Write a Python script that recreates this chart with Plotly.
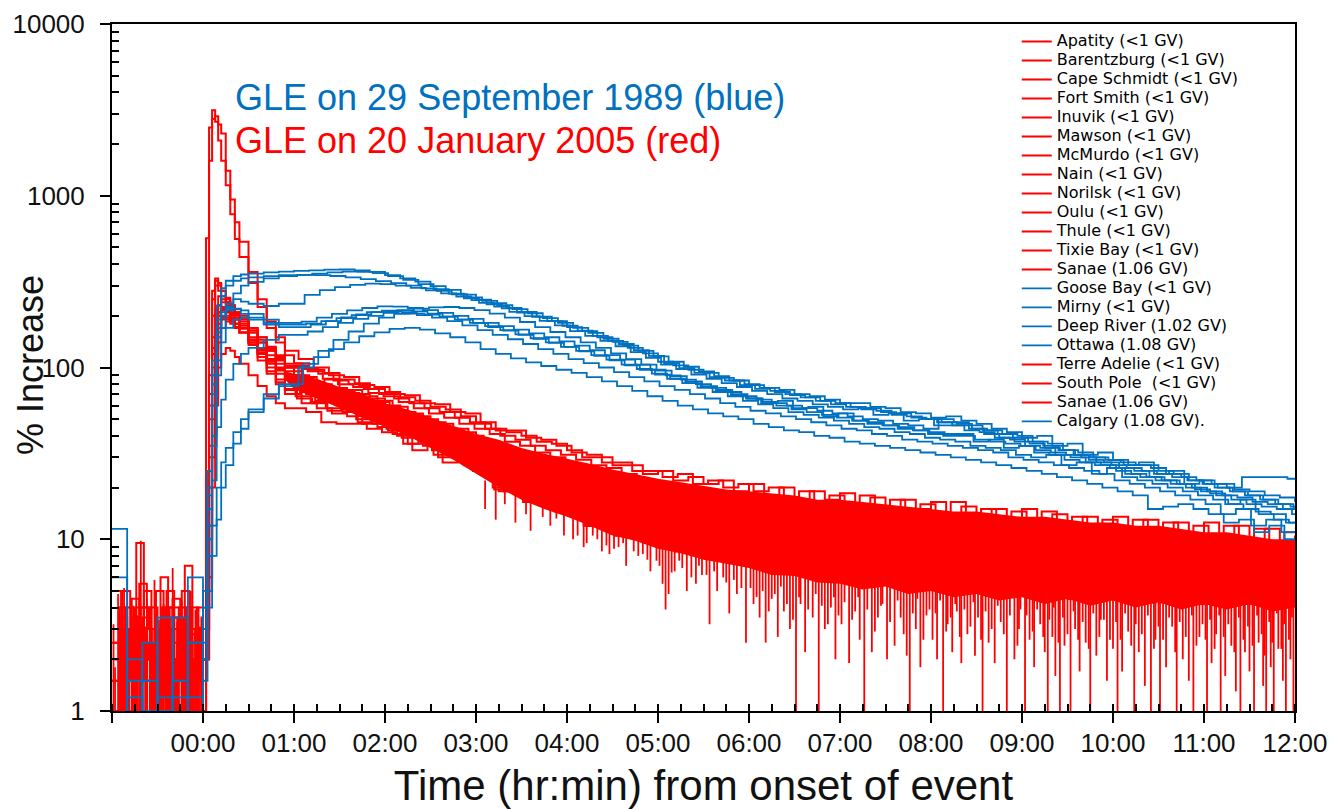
import plotly.graph_objects as go

# ---------------- sampling grids (minutes from onset of event) ----------------
RED_T_PRE = list(range(-60, 0, 5))
RED_T_EARLY = [0, 2, 4, 6, 8, 10, 12, 15, 18, 21, 24, 30, 36, 42, 48, 54]
BLUE_T_PRE = [-60, -50, -40, -30, -20, -10]
BLUE_T_EARLY = [0, 3, 6, 9, 12, 15, 20, 25, 30, 40, 50]
T_LATE = list(range(60, 721, 10))

# per-station record offsets (minutes)
RED_OFFSET_MIN = [0, 6, 3, 8, 1, 5, 9, 2, 7, 4, 6, 1, 8, 3, 0, 5]
BLUE_OFFSET_MIN = [0, 4, 7, 2, 5, 8, 1, 6, 3, 9]

# ---------------- GLE 20 January 2005 (red), % increase ----------------
APATITY = ([2, 1.5, 3, 0.8, 2.5, 4, 1.2, 2, 3.5, 1.5, 2.8, 2] +
           [2, 4, 30, 120, 190, 230, 250, 240, 230, 210, 200, 170, 150, 130, 115, 100] +
           [90, 82, 85, 72, 70, 66,
            60, 55, 52, 48, 44, 42,
            38, 34, 33, 29, 28, 25,
            24, 22, 20, 18, 18, 15,
            16, 14, 13, 14, 11, 12,
            11, 12, 9, 11, 8, 10,
            10, 7, 11, 6, 10, 8,
            9, 6, 10, 7, 8, 5,
            9, 6, 8, 4.5, 9, 6,
            8, 4.5, 8.5, 5.5, 7, 4.2,
            8, 5, 6.5, 4.2, 7.5, 4.5,
            6])
BARENTZBURG = ([1, 3, 0.8, 2, 5, 1.5, 2.5, 0.8, 3, 2, 1, 4] +
               [1, 3, 15, 80, 160, 210, 220, 215, 200, 190, 175, 150, 130, 118, 105, 95] +
               [78, 65, 72, 58, 62, 50,
                52, 42, 46, 36, 40, 33,
                34, 24, 31, 20, 27, 17,
                24, 13, 21, 11.5, 18, 10,
                16, 9, 14, 8, 13, 7.5,
                12, 7, 11, 6.5, 12, 6.5,
                10, 6, 11, 5.5, 9, 5.5,
                10, 5.5, 8, 5, 9, 5,
                8, 5, 9, 4.8, 7, 4.6,
                8, 4.5, 7, 4.4, 8, 4.5,
                7, 4.3, 6, 4.2, 7, 4.4,
                5])
CAPE_SCHMIDT = ([3, 2, 4.5, 1, 2, 3, 0.8, 3.5, 1.5, 4, 2, 3] +
                [3, 6, 50, 150, 220, 260, 240, 230, 210, 195, 180, 160, 140, 125, 110, 100] +
                [85, 78, 74, 71, 64, 63,
                 56, 52, 48, 45, 41, 38,
                 35, 31, 30, 26, 25, 22,
                 21, 19, 18, 15, 16, 13,
                 14, 11, 13, 10, 12, 9,
                 11, 8, 12, 7, 10, 6.5,
                 10, 5.5, 9, 7, 8.5, 5.2,
                 9.5, 6, 8, 5, 9, 5,
                 8, 4.6, 7.5, 5.5, 8, 4.5,
                 7.5, 4.5, 6.5, 4.4, 7.5, 4.2,
                 6.5, 4.3, 7, 4.2, 6, 4.5,
                 5])
FORT_SMITH = ([0.8, 2.5, 1.5, 3, 1, 2, 4, 1.5, 2.5, 0.8, 3, 1.5] +
              [1, 2, 8, 40, 110, 170, 200, 210, 205, 190, 170, 145, 125, 110, 98, 88] +
              [70, 66, 60, 58, 52, 50,
               46, 40, 38, 34, 33, 29,
               30, 21, 26, 17, 23, 15,
               20, 12.5, 18, 11, 16, 9.5,
               14, 8.5, 12, 8, 11, 7.5,
               10, 6.5, 9.5, 6.5, 9, 6,
               9, 5.5, 7.5, 5.5, 8, 5.2,
               7, 5.2, 8, 5, 6.5, 4.8,
               7, 4.6, 6, 4.5, 7, 4.5,
               6, 4.3, 5, 4.2, 6, 4.2,
               5, 4.2, 6, 4.3, 5, 4.2,
               4.5])
INUVIK = ([2.5, 0.8, 2, 4, 1.5, 3, 2, 5, 1, 2.5, 1.5, 2] +
          [2, 5, 25, 100, 180, 200, 215, 200, 185, 170, 160, 140, 120, 105, 92, 85] +
          [75, 68, 64, 62, 56, 54,
           49, 44, 42, 37, 36, 31,
           32, 23, 28, 19, 25, 16,
           22, 14, 19, 11.5, 17, 10,
           15, 9.5, 13, 8, 11, 7.5,
           11, 7, 9, 6.5, 10, 6.2,
           9, 6.5, 8.5, 5.6, 8, 5.3,
           8.5, 5.2, 7, 5, 8, 4.8,
           7, 4.7, 8, 4.6, 6, 4.6,
           7, 4.4, 6, 4.4, 7, 4.2,
           6, 4.2, 5, 4.3, 6, 4.2,
           4.5])
MAWSON = ([1.5, 4, 2, 1, 3.5, 0.8, 2.5, 1.5, 4.5, 2, 3, 1] +
          [1, 4, 60, 200, 300, 280, 260, 240, 215, 200, 185, 160, 140, 125, 112, 100] +
          [88, 80, 76, 74, 68, 64,
           59, 54, 50, 47, 44, 40,
           37, 33, 31, 28, 26, 23,
           22, 20, 19, 16, 17, 14,
           15, 12, 14, 11, 13, 10,
           12, 9, 11, 7.5, 11, 8,
           11, 6, 10, 8, 9.5, 5.2,
           10, 7, 8.5, 5, 9.5, 6,
           9, 4.6, 8, 6, 8.5, 4.5,
           8, 5, 7, 4.4, 8, 4.2,
           7, 4.3, 7.5, 4.2, 6.5, 4.3,
           6])
MCMURDO = ([4, 1.5, 0.8, 2.5, 2, 5, 1.5, 3, 2, 0.8, 2, 3] +
           [2, 8, 70, 250, 320, 300, 280, 250, 225, 205, 190, 165, 145, 128, 115, 102] +
           [95, 86, 80, 77, 71, 68,
            63, 58, 54, 51, 47, 44,
            41, 37, 35, 32, 30, 27,
            26, 24, 22, 20, 19, 18,
            17, 15, 16, 13, 15, 12,
            14, 11, 13, 9.5, 12, 10,
            13, 8.5, 12, 10, 11, 7.5,
            12, 8, 11, 7, 11, 8.5,
            10.5, 6.5, 10, 7.5, 9.5, 6,
            10, 6, 9.5, 7, 9, 5,
            9, 6, 8.5, 4.5, 9, 5.5,
            7])
NAIN = ([1, 2, 3, 1.5, 0.8, 2.5, 3, 1, 2, 3.5, 1, 2.5] +
        [1, 2, 6, 30, 90, 140, 170, 185, 190, 180, 170, 145, 120, 100, 85, 75] +
        [66, 62, 56, 55, 48, 47,
         43, 36, 37, 31, 32, 27,
         28, 19.5, 24, 16.5, 20, 14.5,
         18, 12, 16, 10.5, 14, 9.5,
         12, 8.5, 11, 8, 10, 7.5,
         9, 6.5, 8.5, 6.2, 7, 6,
         8, 5.5, 6, 5.4, 7, 5.2,
         7, 5, 6, 4.9, 7, 4.8,
         6, 4.6, 6.5, 4.5, 5, 4.5,
         6, 4.3, 5, 4.3, 6, 4.2,
         5, 4.2, 4.5, 4.2, 5, 4.2,
         4.2])
NORILSK = ([2, 5, 1.5, 3, 2, 1, 6, 2, 1.5, 3, 4, 2] +
           [2, 5, 35, 130, 200, 230, 225, 210, 195, 180, 168, 145, 128, 112, 100, 90] +
           [80, 75, 70, 66, 62, 58,
            53, 50, 45, 43, 39, 37,
            33, 31, 27, 26, 23, 21,
            20, 17, 17, 14, 15, 12,
            13, 10, 12, 8.5, 11, 8,
            10, 7, 9.5, 6.3, 9, 6,
            9, 5.5, 8.5, 6, 8, 5.2,
            8.5, 5, 7.5, 5, 8, 4.8,
            7.5, 4.6, 7, 5, 7.5, 4.5,
            7, 4.4, 6, 4.3, 7, 4.2,
            6, 4.3, 5.5, 4.2, 6, 4.2,
            5])
OULU = ([1.5, 1, 2.5, 4, 3, 1.5, 2, 0.8, 4, 1.5, 2, 3.5] +
        [1, 3, 12, 60, 130, 180, 195, 190, 180, 170, 160, 140, 122, 108, 96, 86] +
        [72, 64, 66, 57, 58, 50,
         48, 41, 42, 35, 36, 30,
         31, 22, 27, 18, 23, 16,
         21, 12, 19, 11.5, 16, 9.5,
         13, 9, 12, 8, 11, 7.5,
         10, 6.5, 8.5, 6.3, 9, 6,
         8.5, 5.5, 7, 5.4, 8, 5.2,
         7.5, 5, 6, 4.9, 8, 4.8,
         7, 4.6, 6, 4.5, 7, 4.5,
         6, 4.3, 5.5, 4.3, 6, 4.2,
         6, 4.2, 5, 4.2, 6, 4.2,
         5])
THULE = ([5, 2, 1, 9.5, 2, 3, 1.5, 4, 2.5, 1, 3, 2] +
         [3, 10, 90, 280, 330, 310, 280, 255, 230, 210, 195, 170, 150, 132, 118, 105] +
         [98, 92, 84, 80, 75, 70,
          66, 62, 58, 55, 51, 48,
          44, 40, 38, 35, 33, 31,
          29, 27, 26, 24, 22, 21,
          20, 19, 18, 17, 16, 17,
          15, 16, 14, 15, 13, 14,
          13, 12, 14, 11, 13, 11,
          12, 10, 12, 10, 11.5, 9,
          11, 9, 10.5, 8.5, 10.5, 8,
          10, 8, 9.5, 7.5, 9.5, 7,
          9, 7, 9, 7, 8.5, 6.5,
          8])
TIXIE_BAY = ([0.8, 3, 2, 1.5, 4, 2, 1, 3, 2, 5, 1.5, 0.8] +
             [2, 4, 20, 90, 170, 210, 220, 210, 195, 180, 170, 140, 115, 95, 82, 74] +
             [68, 63, 58, 57, 50, 49,
              44, 39, 39, 33, 34, 29,
              29, 20, 25, 16.5, 21, 15,
              19, 12, 17, 10.5, 14, 9.5,
              12, 8.5, 11, 8, 10, 7.5,
              9, 6.5, 8, 6.2, 7, 6,
              8, 5.5, 7, 5.4, 6, 5.2,
              7, 5, 6, 4.9, 7, 4.8,
              6, 4.6, 5, 4.5, 6, 4.5,
              5, 4.3, 6, 4.3, 5, 4.2,
              5, 4.2, 4.5, 4.2, 5, 4.2,
              4.2])
SANAE_A = ([2, 1, 3.5, 2, 1, 2.5, 3, 1.5, 0.8, 2, 2.5, 1.5] +
           [1, 2, 5, 20, 60, 100, 120, 130, 125, 115, 105, 90, 78, 68, 62, 58] +
           [55, 48, 47, 47, 44, 42,
            40, 33, 35, 28, 30, 25,
            24, 19, 21, 16.5, 18, 14.5,
            16, 12, 14, 10.5, 12, 9.5,
            10, 8.5, 9, 8, 8.5, 7.5,
            7, 6.5, 6.5, 6.2, 7, 6,
            6, 5.5, 5.8, 5.4, 6, 5.2,
            5.5, 5, 6, 4.9, 5.5, 4.8,
            5, 4.6, 4.8, 4.5, 5, 4.5,
            4.5, 4.3, 5, 4.3, 4.6, 4.2,
            4.5, 4.2, 4.4, 4.2, 4.5, 4.2,
            4.2])
TERRE_ADELIE = ([3, 1.5, 2, 5.5, 1.5, 2, 3.5, 1, 2, 7, 3, 2] +
                [2, 20, 1600, 2800, 2900, 2600, 2300, 1400, 950, 700, 540, 360, 250, 185, 150, 125] +
                [112, 100, 90, 88, 79, 77,
                 70, 69, 62, 61, 55, 54,
                 48, 43, 43, 39, 38, 35,
                 32, 31, 28, 28, 25, 25,
                 23, 24, 21, 22, 20, 21,
                 19, 20, 17, 19, 16, 18,
                 16, 18, 15, 17, 14, 16,
                 14, 16.5, 13, 15, 12.5, 14.5,
                 12, 14.5, 11.5, 13.5, 11, 13,
                 10.5, 13, 10, 12.5, 10, 12,
                 9.5, 12, 9, 11.5, 9, 11,
                 9])
SOUTH_POLE = ([1.5, 3.5, 1, 2, 3, 1.5, 2, 4, 3, 1.5, 2.5, 3] +
              [3, 565, 2500, 3150, 2700, 2100, 1600, 1150, 780, 560, 440, 310, 225, 170, 140, 118] +
              [106, 97, 93, 85, 81, 75,
               72, 67, 64, 59, 57, 52,
               47, 44, 42, 40, 37, 36,
               33, 30, 30, 27, 27, 24,
               25, 22, 23, 21, 22, 19,
               21, 18, 20, 17, 19, 17,
               18.5, 16, 17.5, 15, 17, 15,
               16.5, 14, 15.5, 13.5, 15, 13,
               15, 12.5, 14, 12, 13.5, 11.5,
               13.5, 11, 13, 11, 12.5, 10.5,
               12.5, 10, 12, 10, 11.5, 9.5,
               10.5])
SANAE_B = ([2.5, 1, 4, 2, 3, 1, 1.5, 2.5, 4, 2, 1, 3] +
           [1, 3, 10, 50, 120, 170, 190, 195, 185, 172, 160, 135, 110, 92, 80, 70] +
           [62, 58, 54, 52, 47, 45,
            41, 36, 35, 30, 31, 27,
            26, 19, 23, 17, 20, 14.5,
            17, 12, 15, 10.5, 13, 9.5,
            11, 8.5, 10, 8, 9, 7.5,
            8, 6.5, 7, 6.2, 8, 6,
            7, 5.5, 6, 5.4, 7, 5.2,
            6, 5, 7, 4.9, 5.5, 4.8,
            6, 4.6, 5, 4.5, 6, 4.5,
            5, 4.3, 4.5, 4.3, 5, 4.2,
            5, 4.2, 4.4, 4.2, 4.5, 4.2,
            4.2])

# dense part of the 2005 noise band (upper / lower edge of the solid red body), hours
RED_BODY_T = [0.9, 1.0, 1.25, 1.5, 1.75, 2.0, 2.25, 2.5, 2.75, 3.0, 3.25, 3.5, 3.75,
              4.0, 4.25, 4.5, 4.75, 5.0, 5.25, 5.5, 5.75, 6.0, 6.25, 6.5, 6.75, 7.0, 7.25,
              7.5, 7.75, 8.0, 8.25, 8.5, 8.75, 9.0, 9.25, 9.5, 9.75, 10.0, 10.25, 10.5,
              10.75, 11.0, 11.25, 11.5, 11.75, 12.0]
RED_BODY_HI = [95, 92, 86, 77, 70, 62, 57, 51, 46, 41, 38, 34, 31.5,
               29.5, 27.5, 25.5, 24, 22.5, 21.5, 20.5, 19.5, 19, 18.5, 18, 17, 17, 16.5,
               16, 15.5, 15, 14.5, 14.5, 14, 13.5, 13.5, 13, 12.5, 12.5, 12, 12,
               11.5, 11, 11, 10.5, 10, 10]
RED_BODY_LO = [85, 75, 66, 58, 51, 45, 40, 34, 29, 24, 20, 17, 15,
               13.5, 12, 10.5, 9.8, 8.8, 8.3, 7.6, 7.2, 6.8, 6.2, 6.1, 5.6, 5.5, 5.1,
               5.3, 4.8, 5.0, 4.6, 4.8, 4.4, 4.6, 4.2, 4.5, 4.1, 4.4, 4.0, 4.3,
               3.9, 4.2, 3.9, 4.2, 3.8, 4.0]

# short downward excursions of the 2005 stations (minute, from, to)
DIP_T_MIN = ([186, 193, 199, 206, 213, 216, 224, 229, 233, 238,
              244, 251, 257, 263, 268, 274, 279, 284, 290, 295, 299,
              303, 305, 307, 311, 314, 319, 325, 329, 334, 339, 343, 347, 352, 358,
              363, 367, 371, 375, 379, 383, 387, 391, 394, 397, 402, 406, 410, 414, 417,
              421, 426, 430, 433, 436, 441, 445, 448, 451, 456, 460, 464, 466, 470, 473, 477,
              481, 484, 488, 491, 494, 497, 500, 504, 509, 511, 514, 518, 522, 526, 530, 535, 538,
              542, 545, 548, 552, 555, 557, 560, 562, 565, 568, 572, 575, 578, 582, 585, 589, 592, 596,
              600, 603, 606, 610, 614, 617, 621, 625, 628, 631, 635, 639, 642, 646, 650, 653, 657,
              662, 665, 668, 671, 674, 678, 681, 684, 687, 690, 693, 696, 699, 701, 704, 706, 709,
              712, 714, 717, 719] +
             [247, 253, 260, 266, 271, 277, 287, 293,
              301, 309, 316, 322, 327, 332, 337, 345, 350, 355,
              361, 365, 369, 373, 377, 381, 385, 389, 393, 399, 404, 408, 412, 416, 419,
              423, 428, 432, 438, 443, 447, 453, 458, 462, 468, 471, 475, 479,
              483, 486, 490, 493, 496, 499, 502, 506, 508, 513, 516, 520, 524, 528, 532, 537, 539,
              543, 547, 550, 554, 558, 561, 564, 567, 570, 574, 577, 580, 584, 587, 591, 594, 598,
              602, 605, 608, 612, 615, 619, 623, 627, 630, 633, 637, 641, 644, 648, 652, 655, 659,
              661, 664, 667, 670, 673, 676, 680, 683, 686, 689, 692, 695, 698, 700, 703, 705, 708,
              711, 713, 716, 718])
DIP_FROM = ([22, 21, 20, 19, 18, 18, 17, 16, 16, 15,
             14, 13, 13, 12, 12, 11.5, 11, 11, 10.5, 10, 10,
             10, 10, 9.5, 9.5, 9, 9, 8.5, 8.5, 8, 8, 8, 7.5, 7.5, 7,
             7.5, 7.5, 7.5, 7, 7, 7, 7, 7, 7, 7, 7, 6.5, 6.5, 6.5, 6.5,
             6.5, 6.5, 6.5, 6.5, 6.5, 6.5, 6.5, 6.5, 6.5, 6, 6, 6, 6, 6, 6, 6,
             6, 6, 6, 6, 6, 6, 6, 6, 6, 6, 6, 6, 6, 6, 6, 6, 6,
             5.5, 5.5, 5.5, 5.5, 5.5, 5.5, 5.5, 5.5, 5.5, 5.5, 5.5, 5.5, 5.5, 5.5, 5.5, 5.5, 5.5, 5.5,
             5.5, 5.5, 5.5, 5.5, 5.5, 5.5, 5.5, 5.5, 5.5, 5.5, 5.5, 5.5, 5.5, 5.5, 5.5, 5.5, 5.5,
             5.5, 5.5, 5.5, 5.5, 5.5, 5.5, 5.5, 5.5, 5.5, 5.5, 5.5, 5.5, 5.5, 5.5, 5.5, 5.5, 5.5,
             5.5, 5.5, 5.5, 5.5] +
            [13, 12.5, 12, 11.5, 11, 11, 10.5, 10,
             9.5, 9, 9, 8.5, 8.5, 8.5, 8, 8, 7.5, 7.5,
             7, 7, 7, 7, 7, 7, 7, 7, 7, 7, 7, 6.5, 6.5, 6.5, 6.5,
             6.5, 6.5, 6.5, 6.5, 6.5, 6.5, 6.5, 6, 6, 6, 6, 6, 6,
             6, 6, 6, 6, 6, 6, 6, 6, 6, 6, 6, 6, 6, 6, 6, 6, 6,
             5.5, 5.5, 5.5, 5.5, 5.5, 5.5, 5.5, 5.5, 5.5, 5.5, 5.5, 5.5, 5.5, 5.5, 5.5, 5.5, 5.5,
             5.5, 5.5, 5.5, 5.5, 5.5, 5.5, 5.5, 5.5, 5.5, 5.5, 5.5, 5.5, 5.5, 5.5, 5.5, 5.5, 5.5,
             5.5, 5.5, 5.5, 5.5, 5.5, 5.5, 5.5, 5.5, 5.5, 5.5, 5.5, 5.5, 5.5, 5.5, 5.5, 5.5, 5.5,
             5.5, 5.5, 5.5, 5.5])
DIP_TO = ([15, 13, 16, 12.5, 14, 11.2, 13.5, 12, 13.2, 10.5,
           10, 9, 10.5, 8.5, 8.2, 9, 7, 8.5, 8.2, 6.5, 7.5,
           5.5, 3.9, 4.8, 6.5, 7.5, 5, 5.5, 6.2, 3.2, 5, 6, 3.7, 4.8, 2.5,
           4.2, 3.5, 2.5, 4.5, 2.7, 3.8, 3, 0.8, 4.2, 2.2, 3.5, 0.8, 3, 4, 2,
           3.2, 1.9, 3.8, 2.6, 0.8, 2.2, 3.5, 4.2, 2, 2.4, 3.5, 2.1, 0.8, 3, 1.8, 3.6,
           2.6, 2, 0.8, 3.2, 2.2, 3.8, 1.9, 2.8, 2.1, 3.5, 0.8, 2.5, 1.9, 3.3, 0.8, 2, 3,
           0.8, 2.6, 1.8, 3.2, 2.2, 0.8, 2.7, 1.6, 0.8, 2.4, 0.8, 3, 1.7, 2.5, 0.8, 2.1, 3.4, 1.5,
           2.3, 0.8, 1.7, 2.9, 0.8, 2.2, 1.4, 0.8, 2.6, 0.8, 1.8, 3.1, 0.8, 2, 1.5, 0.8, 2.7,
           0.8, 1.9, 2.8, 0.8, 1.6, 2.4, 1.3, 0.8, 2.2, 1.7, 0.8, 2.5, 1.4, 0.8, 1.8, 0.8, 2.3,
           1.5, 0.8, 2, 0.8] +
          [10.5, 9.5, 10, 9.2, 8.8, 9.5, 8, 7.6,
           7, 6.4, 6.8, 6, 7, 6.2, 6.5, 5.6, 5.8, 5.2,
           5.2, 4.6, 5, 3.8, 4.8, 5.3, 4.2, 3.4, 4.6, 3.9, 4.8, 4.1, 3.2, 4.6, 3.6,
           4.3, 3.4, 4.6, 3.9, 2.9, 4.1, 3.3, 4.4, 2.8, 3.7, 4.5, 2.6, 3.9,
           3.7, 4.4, 2.9, 3.5, 4.2, 2.7, 3.9, 3.1, 4.3, 2.6, 3.8, 3, 4.1, 2.8, 3.6, 2.4, 3.9,
           3.6, 2.9, 3.9, 2.7, 3.4, 4, 2.5, 3.5, 2.8, 3.8, 2.6, 3.3, 2.3, 3.7, 2.7, 3.4, 2.6,
           3.3, 2.6, 3.7, 2.4, 3.2, 2.8, 3.6, 2.3, 3.1, 2.6, 3.5, 2.2, 3.3, 2.7, 3.6, 2.4, 3.2,
           2.6, 3.4, 2.3, 3.6, 2.7, 3.2, 2.2, 3.5, 2.6, 3.1, 2.4, 3.6, 2.8, 2.1, 3.3, 2.5, 3.7,
           2.3, 3.2, 2.6, 3.5])

# pre-event background fluctuations of the 2005 records (minute, peak value)
PRE_SPIKE_T_MIN = [-59, -58, -56, -55, -53, -52, -50, -49, -47, -46, -44, -43, -41, -40,
                   -38, -37, -35, -34, -32, -31, -29, -28, -26, -25, -23, -22, -20, -19,
                   -17, -16, -14, -13, -11, -10, -8, -7, -5, -4, -2, -1]
PRE_SPIKE_TOP = [3.2, 1.8, 4.8, 2.5, 2.1, 5.2, 3, 1.6, 2.7, 4.1, 2.2, 3.6, 9.8, 2,
                 3.1, 4.5, 1.7, 2.9, 5.8, 2.3, 3.4, 1.9, 4.2, 2.6, 3.8, 2.1, 6.8, 2.4,
                 3.3, 1.8, 4.4, 2.8, 3.5, 2.2, 5, 2.6, 3.9, 1.9, 3.1, 2.5]

# ---------------- GLE 29 September 1989 (blue), % increase ----------------
GOOSE_BAY = ([0.5, 1.2, 0.5, 3.5, 0.5, 2.5] +
             [5, 25, 110, 230, 290, 320, 340, 348, 352, 358, 362] +
             [365, 368, 371, 372, 368, 360,
              345, 330, 316, 298, 283, 266,
              248, 237, 222, 211, 198, 186,
              172, 163, 150, 141, 130, 121,
              108, 103, 97, 93, 87, 84,
              79, 76, 74, 70, 68, 65,
              62, 62, 59, 58, 55, 54,
              51, 52, 49, 47, 44, 42,
              39, 40, 35, 36, 31, 32,
              29, 27, 27, 25, 24, 22,
              21, 21, 19.5, 19, 18, 17.5,
              16.5])
MIRNY = ([11.5, 0.5, 1, 0.5, 1.5, 0.5] +
         [4, 18, 80, 190, 260, 300, 320, 330, 335, 340, 345] +
         [346, 345, 341, 335, 327, 318,
          310, 300, 289, 279, 267, 256,
          244, 231, 219, 207, 194, 182,
          170, 159, 147, 137, 126, 117,
          106, 99, 93, 88, 84, 79,
          75, 73, 70, 67, 64, 61,
          59, 57, 56, 53, 52, 50,
          48, 46, 46, 43, 41, 39,
          37, 35, 33, 31, 29, 28,
          26, 25, 23, 22, 21, 19.5,
          18.5, 16, 17, 14.5, 14, 12.5,
          12])
DEEP_RIVER = ([0.5, 2, 0.5, 0.8, 0.5, 6] +
              [3, 12, 60, 150, 200, 235, 250, 242, 235, 228, 235] +
              [265, 282, 294, 303, 308, 306,
               300, 291, 281, 270, 259, 247,
               233, 221, 209, 197, 186, 175,
               164, 153, 143, 134, 125, 116,
               108, 101, 95, 89, 84, 80,
               76, 72, 69, 67, 64, 62,
               59, 58, 55, 54, 51, 50,
               48, 47, 44, 43, 41, 40,
               37, 36, 33, 32, 30, 29,
               27, 28, 24, 25, 21, 22,
               20, 19, 18, 17, 16, 15.5,
               14.5])
OTTAWA = ([0.5, 0.5, 1.5, 0.5, 3.5, 1.2] +
          [3, 10, 40, 110, 170, 220, 270, 300, 315, 330, 340] +
          [346, 352, 358, 362, 360, 354,
           340, 324, 306, 286, 269, 253,
           238, 226, 211, 199, 187, 176,
           163, 153, 143, 133, 123, 114,
           104, 98, 91, 86, 81, 77,
           73, 70, 66, 64, 61, 59,
           57, 58, 53, 54, 49, 50,
           46, 46, 43, 42, 39, 38,
           35, 34, 31, 30, 28, 27,
           25, 24, 23, 22, 21, 20,
           19, 18, 17.5, 16.5, 16, 15,
           14])
CALGARY = ([6, 0.5, 0.5, 1, 0.5, 0.5] +
           [4, 15, 70, 160, 200, 215, 220, 215, 205, 190, 182] +
           [185, 195, 205, 215, 222, 227,
            226, 222, 216, 208, 200, 192,
            182, 174, 166, 158, 150, 142,
            134, 126, 118, 111, 104, 97,
            90, 85, 80, 76, 72, 68,
            65, 62, 60, 58, 56, 54,
            52, 50, 49, 47, 46, 44,
            50, 48, 44, 41, 39, 37,
            36, 34, 33, 31, 30, 29,
            28, 27, 26, 24, 23, 22,
            21, 20, 23, 23, 23, 22.5,
            22])
BLUE_STATION_6 = ([0.5, 0.5, 2.5, 0.5, 0.5, 0.5] +
                  [3, 20, 90, 170, 210, 225, 218, 205, 195, 182, 178] +
                  [180, 186, 194, 202, 210, 214,
                   216, 212, 206, 198, 190, 182,
                   172, 164, 155, 147, 139, 132,
                   124, 117, 110, 103, 97, 91,
                   86, 81, 77, 73, 69, 66,
                   62, 60, 57, 55, 53, 51,
                   49, 47, 46, 44, 43, 41,
                   40, 41, 37, 38, 34, 35,
                   32, 31, 29, 28, 27, 26,
                   24, 23, 22, 21, 20, 19,
                   18, 17, 16, 15.5, 15, 14,
                   13])
BLUE_STATION_7 = ([0.5, 0.5, 0.5, 1.2, 0.5, 0.5] +
                  [2, 8, 35, 90, 140, 170, 190, 195, 190, 178, 172] +
                  [172, 178, 186, 196, 204, 210,
                   212, 208, 202, 195, 186, 176,
                   165, 155, 146, 137, 128, 120,
                   112, 106, 100, 94, 88, 83,
                   78, 74, 70, 66, 62, 59,
                   56, 54, 52, 50, 48, 46,
                   44, 43, 41, 40, 38, 37,
                   36, 35, 34, 33, 32, 30,
                   29, 28, 27, 26, 25, 24,
                   22, 21, 20, 19, 18, 17,
                   16, 14, 15, 12, 13, 11,
                   9])
BLUE_STATION_8 = ([0.5, 1.5, 0.5, 0.5, 0.5, 2.5] +
                  [2, 5, 12, 20, 28, 34, 42, 50, 57, 70, 80] +
                  [105, 125, 145, 162, 180, 195,
                   205, 206, 203, 198, 190, 182,
                   174, 165, 156, 148, 140, 132,
                   125, 118, 111, 104, 98, 92,
                   86, 81, 76, 72, 68, 64,
                   61, 58, 55, 53, 51, 49,
                   47, 45, 44, 42, 41, 39,
                   38, 37, 35, 34, 33, 31,
                   30, 31, 27, 28, 24, 26,
                   23, 22, 21, 20, 19, 18,
                   17, 16, 15, 14, 13, 12.5,
                   12])
BLUE_STATION_9 = ([0.5, 0.5, 0.5, 0.5, 1.2, 0.5] +
                  [1.5, 4, 8, 13, 20, 27, 36, 44, 55, 66, 78] +
                  [100, 115, 128, 140, 152, 160,
                   168, 170, 166, 158, 150, 140,
                   128, 120, 113, 107, 102, 97,
                   93, 88, 83, 78, 73, 68,
                   64, 60, 57, 54, 52, 50,
                   47, 45, 43, 42, 40, 39,
                   37, 36, 35, 34, 33, 32,
                   31, 30, 29, 28, 27, 26,
                   25, 24, 23, 22, 21, 20,
                   19, 18, 15, 15.5, 16, 15,
                   14, 12.5, 13, 11, 12, 10,
                   10.5])
BLUE_STATION_10 = ([0.5, 0.5, 0.5, 0.5, 0.5, 0.5] +
                   [2.5, 8, 22, 45, 65, 85, 105, 120, 130, 145, 155] +
                   [162, 172, 182, 192, 200, 208,
                    214, 220, 224, 225, 222, 216,
                    206, 195, 184, 172, 161, 150,
                    140, 130, 121, 112, 104, 96,
                    89, 83, 78, 74, 70, 66,
                    63, 64, 58, 59, 52, 54,
                    49, 48, 46, 45, 43, 42,
                    41, 40, 38, 37, 36, 35,
                    33, 32, 31, 30, 28, 27,
                    26, 25, 24, 23, 22, 21,
                    20, 19, 18, 17, 16, 15,
                    14.5])

# ---------------- legend labels (label, values, legend position) ----------------
RED_STATIONS = [
    ("Apatity (<1 GV)", APATITY, 1),
    ("Barentzburg (<1 GV)", BARENTZBURG, 2),
    ("Cape Schmidt (<1 GV)", CAPE_SCHMIDT, 3),
    ("Fort Smith (<1 GV)", FORT_SMITH, 4),
    ("Inuvik (<1 GV)", INUVIK, 5),
    ("Mawson (<1 GV)", MAWSON, 6),
    ("McMurdo (<1 GV)", MCMURDO, 7),
    ("Nain (<1 GV)", NAIN, 8),
    ("Norilsk (<1 GV)", NORILSK, 9),
    ("Oulu (<1 GV)", OULU, 10),
    ("Thule (<1 GV)", THULE, 11),
    ("Tixie Bay (<1 GV)", TIXIE_BAY, 12),
    ("Sanae (1.06 GV)", SANAE_A, 13),
    ("Terre Adelie (<1 GV)", TERRE_ADELIE, 18),
    ("South Pole  (<1 GV)", SOUTH_POLE, 19),
    ("Sanae (1.06 GV)", SANAE_B, 20),
]
BLUE_STATIONS = [
    ("Goose Bay (<1 GV)", GOOSE_BAY, 14),
    ("Mirny (<1 GV)", MIRNY, 15),
    ("Deep River (1.02 GV)", DEEP_RIVER, 16),
    ("Ottawa (1.08 GV)", OTTAWA, 17),
    ("Calgary (1.08 GV).", CALGARY, 21),
    (None, BLUE_STATION_6, None),
    (None, BLUE_STATION_7, None),
    (None, BLUE_STATION_8, None),
    (None, BLUE_STATION_9, None),
    (None, BLUE_STATION_10, None),
]

X_TICK_VALS = list(range(-1, 13))
X_TICK_TEXT = [""] + ["%02d:00" % h for h in range(13)]
Y_TICK_VALS = [1, 10, 100, 1000, 10000]
Y_TICK_TEXT = ["1", "10", "100", "1000", "10000"]
Y_MINOR_VALS = [m * 10 ** d for d in range(4) for m in range(2, 10)]

RED = "#FF0000"
BLUE = "#0070C0"
FONT = "Liberation Sans, Arial, sans-serif"

n_red = len(RED_T_PRE) + len(RED_T_EARLY) + len(T_LATE)
n_blue = len(BLUE_T_PRE) + len(BLUE_T_EARLY) + len(T_LATE)
for lab, vals, _ in RED_STATIONS:
    if len(vals) != n_red:
        raise ValueError("red %s has %d values, expected %d" % (lab, len(vals), n_red))
for i, (lab, vals, _) in enumerate(BLUE_STATIONS):
    if len(vals) != n_blue:
        raise ValueError("blue %s (%d) has %d values, expected %d" % (lab, i, len(vals), n_blue))
if not (len(RED_BODY_T) == len(RED_BODY_HI) == len(RED_BODY_LO)):
    raise ValueError("body lengths differ")
if not (len(DIP_T_MIN) == len(DIP_FROM) == len(DIP_TO)):
    raise ValueError("dip lengths differ")
if len(PRE_SPIKE_T_MIN) != len(PRE_SPIKE_TOP):
    raise ValueError("pre spike lengths differ")


def legend_text(label):
    return '<span style="font-size:16px">%s</span>' % label.replace("<", "&lt;")


fig = go.Figure()

# solid body of the overlapping 2005 records
fig.add_trace(go.Scatter(x=RED_BODY_T + RED_BODY_T[::-1], y=RED_BODY_HI + RED_BODY_LO[::-1],
                         mode="lines", fill="toself", fillcolor=RED, line=dict(width=0, color=RED),
                         showlegend=False, hoverinfo="skip"))

# short downward excursions and pre-event fluctuations
dx, dy = [], []
for t, a, b in zip(DIP_T_MIN, DIP_FROM, DIP_TO):
    dx += [t / 60, t / 60, None]
    dy += [a, b, None]
for t, top in zip(PRE_SPIKE_T_MIN, PRE_SPIKE_TOP):
    dx += [t / 60, t / 60, None]
    dy += [0.8, top, None]
fig.add_trace(go.Scatter(x=dx, y=dy, mode="lines", line=dict(color=RED, width=1.8),
                         showlegend=False, hoverinfo="skip"))

for k, (label, vals, rank) in enumerate(RED_STATIONS):
    off = RED_OFFSET_MIN[k]
    t = ([(m + off % 5) / 60 for m in RED_T_PRE] + [m / 60 for m in RED_T_EARLY] +
         [(m + off) / 60 for m in T_LATE])
    fig.add_trace(go.Scatter(x=t, y=vals, mode="lines", name=legend_text(label),
                             legendrank=rank, hoverinfo="skip",
                             line=dict(color=RED, width=2.0, shape="hv")))

for k, (label, vals, rank) in enumerate(BLUE_STATIONS):
    off = BLUE_OFFSET_MIN[k]
    t = ([m / 60 for m in BLUE_T_PRE] + [m / 60 for m in BLUE_T_EARLY] +
         [(m + off) / 60 for m in T_LATE])
    kw = dict(name=legend_text(label), legendrank=rank) if label else dict(showlegend=False)
    fig.add_trace(go.Scatter(x=t, y=vals, mode="lines", hoverinfo="skip",
                             line=dict(color=BLUE, width=1.8, shape="hv"), **kw))

fig.update_layout(
    width=1334, height=809,
    margin=dict(l=112, r=39, t=24, b=98, autoexpand=False),
    paper_bgcolor="white", plot_bgcolor="white",
    font=dict(family=FONT, color="#111111"),
    showlegend=True,
    legend=dict(x=0.7648, y=0.9958, xanchor="left", yanchor="top",
                bgcolor="rgba(0,0,0,0)", borderwidth=0, tracegroupgap=0,
                font=dict(family="DejaVu Sans, sans-serif", size=11.2, color="#000000")),
    xaxis=dict(range=[-1, 12], tickmode="array", tickvals=X_TICK_VALS, ticktext=X_TICK_TEXT,
               ticks="outside", ticklen=10, tickwidth=2, tickcolor="black",
               ticklabelstandoff=-2, automargin=False,
               showline=True, linewidth=2, linecolor="black", mirror=True,
               showgrid=False, zeroline=False,
               tickfont=dict(family=FONT, size=26, color="#111111"),
               minor=dict(dtick=0.25, tick0=0, ticks="inside", ticklen=7, tickwidth=1.5,
                          tickcolor="black", showgrid=False),
               title=dict(text="Time (hr:min) from onset of event", standoff=25,
                          font=dict(family=FONT, size=42, color="#111111"))),
    yaxis=dict(type="log", range=[0, 4], tickmode="array", tickvals=Y_TICK_VALS,
               ticktext=Y_TICK_TEXT, ticks="outside", ticklen=10, tickwidth=2,
               tickcolor="black", ticklabelstandoff=10, automargin=False,
               showline=True, linewidth=2, linecolor="black", mirror=True,
               showgrid=False, zeroline=False,
               tickfont=dict(family=FONT, size=26, color="#111111"),
               minor=dict(tickvals=Y_MINOR_VALS, ticks="inside", ticklen=7, tickwidth=1.5,
                          tickcolor="black", showgrid=False)),
    annotations=[
        dict(text="GLE on 29 September 1989 (blue)", xref="paper", yref="paper",
             x=0.1023, y=0.8923, xanchor="left", yanchor="middle", showarrow=False,
             font=dict(family=FONT, size=36, color=BLUE)),
        dict(text="GLE on 20 January 2005 (red)", xref="paper", yref="paper",
             x=0.1023, y=0.8311, xanchor="left", yanchor="middle", showarrow=False,
             font=dict(family=FONT, size=36, color=RED)),
        dict(text="% Increase", xref="paper", yref="paper", x=-0.0693, y=0.5036,
             xanchor="center", yanchor="middle", textangle=-90, showarrow=False,
             font=dict(family=FONT, size=36, color="#111111")),
    ],
)

fig.write_html("out.html", config={"displayModeBar": False},
               post_script="document.body.style.margin='0';document.body.style.overflow='hidden';")
